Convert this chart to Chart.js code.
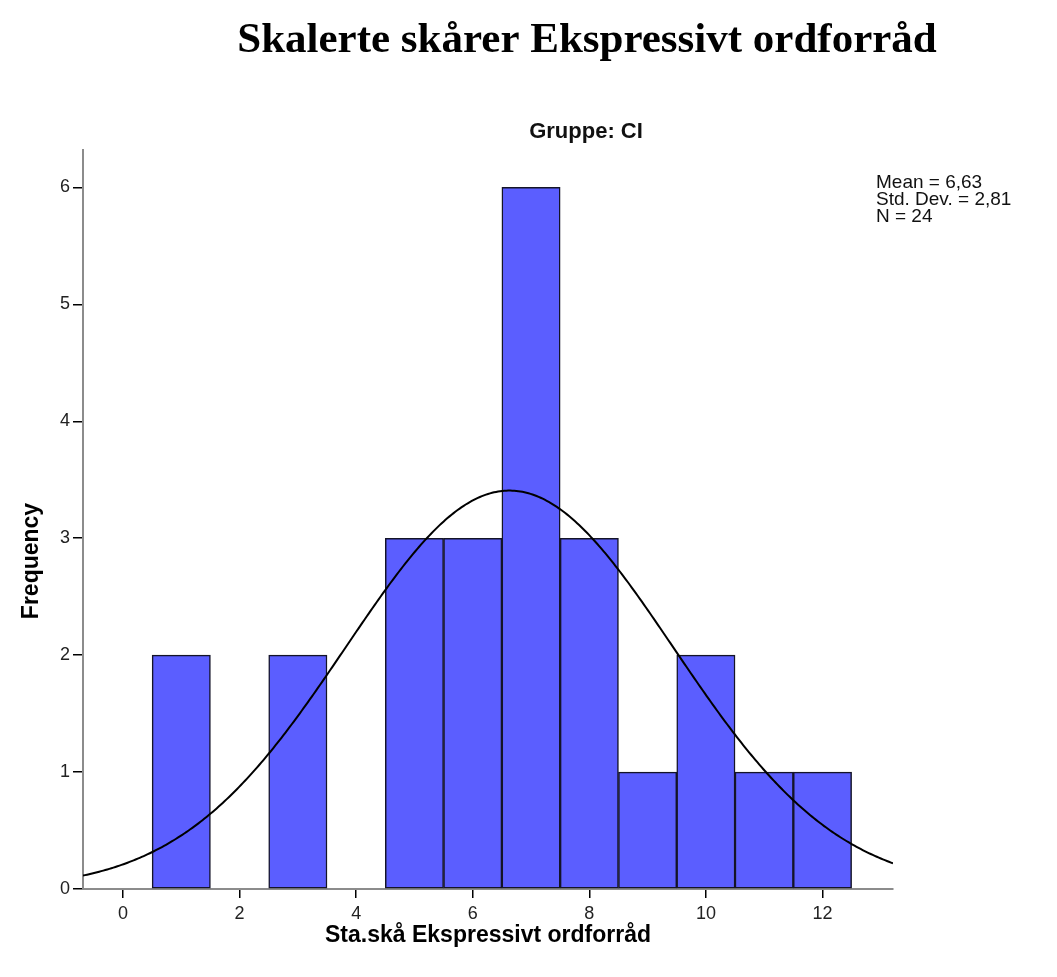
<!DOCTYPE html>
<html>
<head>
<meta charset="utf-8">
<title>Skalerte skårer Ekspressivt ordforråd</title>
<script src="https://cdn.jsdelivr.net/npm/chart.js@4/dist/chart.umd.min.js"></script>
<style>
  html, body { margin: 0; padding: 0; background: #fff; }
  canvas { display: block; }
</style>
</head>
<body>
<canvas id="c" width="1057" height="977"></canvas>
<script>
// Histogram bins (centre of each bin) and their counts
const binCentres = [1, 3, 5, 6, 7, 8, 9, 10, 11, 12];
const frequencies = [2, 2, 3, 3, 6, 3, 1, 2, 1, 1];

// Summary statistics shown beside the plot
const statMean = 6.63;
const statSd = 2.81;
const statN = 24;
const binWidth = 1;

// Axis ticks
const xTickValues = [0, 2, 4, 6, 8, 10, 12];
const yTickValues = [0, 1, 2, 3, 4, 5, 6];

const X_MIN = -0.686, X_MAX = 13.21;
const Y_MIN = 0, Y_MAX = 6.32;

// Fitted normal curve scaled to counts: N * width * density(x)
function normalCount(x) {
  const z = (x - statMean) / statSd;
  return statN * binWidth * Math.exp(-0.5 * z * z) / (statSd * Math.sqrt(2 * Math.PI));
}
const curvePoints = [];
for (let i = 0; i <= 400; i++) {
  const x = X_MIN + (X_MAX - X_MIN) * i / 400;
  curvePoints.push({ x: x, y: normalCount(x) });
}

const barPoints = binCentres.map((c, i) => ({ x: c, y: frequencies[i] }));

const SANS = '"Liberation Sans", Arial, sans-serif';
const SERIF = '"Liberation Serif", "Times New Roman", serif';

const textPlugin = {
  id: 'texts',
  beforeDraw(chart) {
    const ctx = chart.ctx;
    ctx.save();
    ctx.fillStyle = '#fff';
    ctx.fillRect(0, 0, chart.width, chart.height);
    ctx.restore();
  },
  afterDraw(chart) {
    const ctx = chart.ctx;
    const area = chart.chartArea;
    ctx.save();
    ctx.fillStyle = '#000';
    ctx.textBaseline = 'alphabetic';

    // Main heading
    ctx.font = 'bold 43px ' + SERIF;
    ctx.textAlign = 'center';
    ctx.fillText('Skalerte skårer Ekspressivt ordforråd', 587, 52);

    // Panel heading
    ctx.font = 'bold 22px ' + SANS;
    ctx.fillStyle = '#111';
    ctx.fillText('Gruppe: CI', 586, 138);

    // Statistics block
    ctx.font = '19px ' + SANS;
    ctx.textAlign = 'left';
    ctx.fillStyle = '#111';
    ctx.fillText('Mean = 6,63', 876, 188);
    ctx.fillText('Std. Dev. = 2,81', 876, 205);
    ctx.fillText('N = ' + statN, 876, 222);

    // Axis titles
    ctx.fillStyle = '#000';
    ctx.font = 'bold 23px ' + SANS;
    ctx.textAlign = 'center';
    ctx.fillText('Sta.skå Ekspressivt ordforråd', (area.left + area.right) / 2, 942);

    ctx.translate(38, 561);
    ctx.rotate(-Math.PI / 2);
    ctx.fillText('Frequency', 0, 0);
    ctx.restore();
  }
};

new Chart(document.getElementById('c'), {
  data: {
    datasets: [
      {
        type: 'line',
        data: curvePoints,
        borderColor: '#000',
        borderWidth: 2,
        pointRadius: 0,
        tension: 0,
        order: 0
      },
      {
        type: 'bar',
        data: barPoints,
        backgroundColor: '#5b5eff',
        borderColor: '#141428',
        borderWidth: 1.5,
        borderSkipped: false,
        barPercentage: 1,
        categoryPercentage: 1,
        order: 1
      }
    ]
  },
  options: {
    responsive: false,
    animation: false,
    layout: { padding: { left: 0, right: 164, top: 150, bottom: 0 } },
    plugins: {
      legend: { display: false },
      tooltip: { enabled: false }
    },
    scales: {
      x: {
        type: 'linear',
        min: X_MIN,
        max: X_MAX,
        offset: false,
        afterBuildTicks(scale) { scale.ticks = xTickValues.map(v => ({ value: v })); },
        afterFit(scale) { scale.height = 977 - 889; },
        grid: { offset: false, drawOnChartArea: false, drawTicks: true, tickLength: 9, color: '#000', lineWidth: 1.5 },
        border: { display: true, color: '#8c8c8c', width: 2 },
        ticks: {
          font: { family: SANS, size: 18 },
          color: '#222',
          padding: 5,
          maxRotation: 0,
          autoSkip: false
        }
      },
      y: {
        type: 'linear',
        min: Y_MIN,
        max: Y_MAX,
        afterBuildTicks(scale) { scale.ticks = yTickValues.map(v => ({ value: v })); },
        afterFit(scale) { scale.width = 83; },
        grid: { drawOnChartArea: false, drawTicks: true, tickLength: 10, color: '#000', lineWidth: 1.5 },
        border: { display: true, color: '#8c8c8c', width: 2 },
        ticks: {
          font: { family: SANS, size: 18 },
          color: '#222',
          padding: 3,
          autoSkip: false
        }
      }
    }
  },
  plugins: [textPlugin]
});
</script>
</body>
</html>
